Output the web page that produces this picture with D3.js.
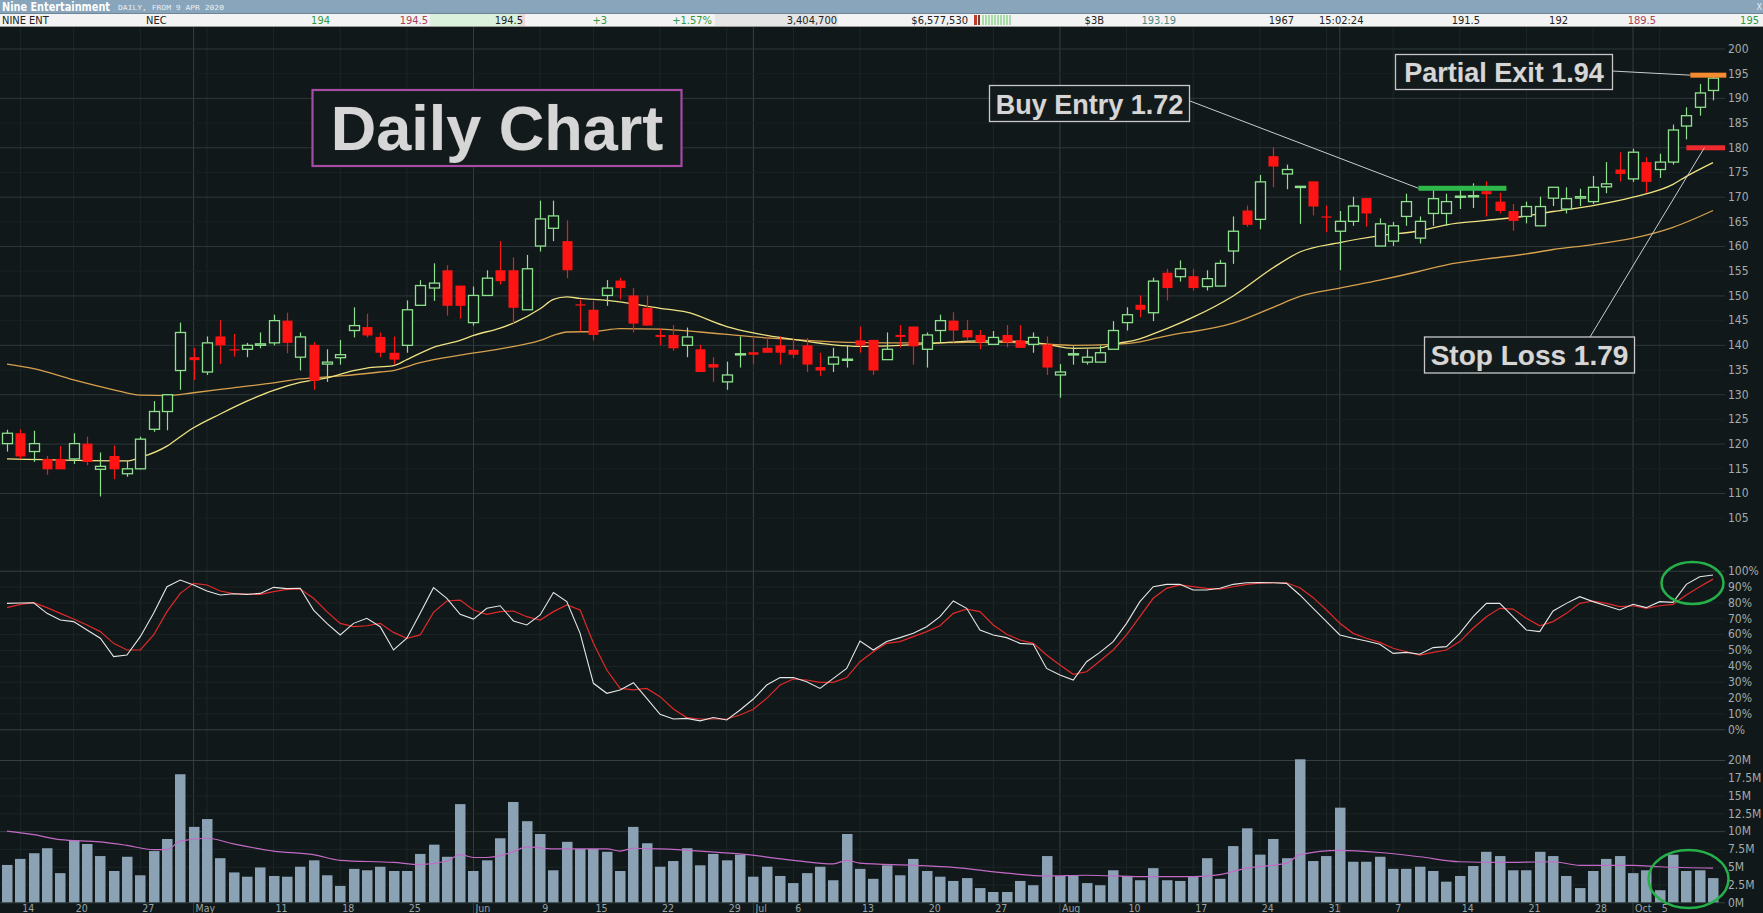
<!DOCTYPE html>
<html><head><meta charset="utf-8">
<script src="https://cdn.jsdelivr.net/npm/d3@7/dist/d3.min.js"></script>
<style>html,body{margin:0;padding:0;background:#111819;overflow:hidden}svg{display:block}</style>
</head><body><svg id="c" width="1763" height="913"></svg>
<script>
// ---------------- DATA (prices in cents) ----------------
const openP  = [120.0,122.1,118.4,116.9,116.9,116.9,120.0,114.8,117.5,113.9,114.9,122.9,126.5,134.8,137.5,134.5,141.7,139.1,139.1,139.9,140.4,144.9,137.5,140.0,136.1,137.4,142.9,143.6,141.6,138.4,139.9,148.0,151.5,155.1,152.0,144.5,150.0,155.1,155.1,147.1,160.0,163.6,161.0,148.2,147.1,150.0,153.0,150.0,147.5,142.0,142.0,139.9,139.1,136.1,132.5,138.0,138.5,139.4,139.9,139.0,139.9,135.5,136.1,137.0,140.9,141.0,137.0,142.0,143.7,139.1,142.9,144.9,143.0,142.0,140.1,142.0,140.9,140.1,140.1,133.9,138.0,136.5,136.5,139.1,144.5,148.1,146.5,154.6,153.8,153.9,151.8,151.9,159.0,167.2,165.4,178.2,174.6,171.9,173.1,166.0,163.0,165.0,169.7,160.0,161.0,166.0,161.6,166.6,166.6,170.0,170.0,171.1,169.0,167.1,166.0,164.1,169.7,167.5,169.7,169.0,172.0,175.5,173.6,177.0,175.5,177.0,184.3,188.1,191.5];
const highP  = [122.8,122.9,122.6,117.5,119.5,122.1,121.4,118.2,119.6,116.5,121.4,128.6,130.0,144.5,139.4,141.7,145.0,142.2,140.4,142.5,146.1,146.5,142.5,140.5,139.1,141.0,147.6,146.3,142.5,141.7,149.0,153.1,156.5,156.1,152.0,151.8,155.1,161.0,157.7,158.2,169.2,169.2,165.2,149.2,148.9,153.1,153.6,151.5,150.0,143.3,144.0,143.5,140.0,137.5,136.6,141.7,141.7,141.7,141.7,141.4,141.4,138.4,139.4,139.9,143.7,141.0,142.5,144.0,143.7,142.5,146.1,146.6,145.0,143.0,142.8,144.0,144.0,142.5,141.7,136.1,139.7,139.1,139.9,144.8,147.6,150.0,153.6,155.4,157.1,155.4,155.1,157.2,166.0,168.2,174.4,180.0,176.5,172.1,173.1,168.2,167.1,170.0,169.7,165.6,164.9,170.6,166.0,171.3,170.6,171.5,172.7,173.1,170.8,168.5,169.0,170.0,171.9,171.9,171.6,174.2,177.0,179.0,179.7,178.0,178.7,184.6,188.1,192.8,195.0];
const lowP   = [118.4,116.9,116.3,113.7,114.8,115.9,115.6,109.3,112.8,113.3,114.8,122.4,122.7,130.9,132.9,133.9,136.1,137.6,137.5,139.3,139.9,138.3,134.8,130.9,132.5,136.0,141.5,141.5,137.5,136.0,138.4,148.0,148.9,145.9,145.3,143.9,150.0,152.2,144.3,147.1,158.9,161.0,153.5,142.7,140.9,147.9,149.2,142.5,143.9,139.9,138.8,137.5,134.5,132.5,130.9,135.4,136.1,138.4,136.0,137.3,134.5,133.7,134.5,135.4,138.4,133.9,137.0,139.4,136.0,135.4,140.5,140.5,141.0,139.1,140.1,139.5,139.4,138.4,133.9,129.3,136.0,136.0,136.5,139.1,142.9,145.6,144.8,149.0,152.8,151.0,151.0,151.9,156.4,163.9,163.4,171.9,171.5,164.5,166.2,162.8,155.1,164.1,163.9,160.0,160.0,164.1,160.5,164.1,164.1,167.5,167.7,166.0,166.6,163.1,164.6,164.1,168.1,166.6,168.1,168.5,170.7,173.1,173.0,170.8,173.8,176.5,181.6,186.4,189.5];
const closeP = [122.1,117.4,120.0,114.8,114.8,120.0,116.3,115.4,114.8,114.9,120.9,126.5,129.9,142.5,136.9,140.4,139.9,138.9,139.9,140.2,144.9,140.4,141.6,132.7,136.5,138.0,143.9,141.9,138.4,137.0,147.1,152.0,152.5,147.9,147.9,150.0,153.5,152.9,147.5,155.4,165.5,166.1,155.1,148.0,142.0,151.5,151.5,144.3,143.9,141.6,139.3,141.6,134.5,135.4,133.9,138.2,138.0,138.4,138.4,138.0,136.0,134.8,137.5,137.1,139.9,134.8,139.1,141.6,139.7,142.0,144.9,142.9,141.5,140.5,141.5,140.5,139.4,141.5,135.4,134.5,138.2,137.5,138.4,142.9,146.1,147.1,152.9,151.5,155.4,151.5,153.4,156.5,163.0,164.3,173.0,176.1,175.5,172.1,168.0,165.9,165.0,168.1,166.6,164.5,164.1,169.0,165.0,169.6,169.0,170.1,170.2,170.5,167.1,165.1,168.0,168.0,171.9,169.6,170.0,171.9,172.6,174.6,179.0,173.0,177.0,183.5,186.4,191.0,194.0];
// moving averages: [day index, value]
const maShort = [[0,116.9],[9,116.5],[10,117.2],[12,119.5],[13,121.4],[14,123.2],[16,126.0],[18,128.6],[20,130.8],[22,132.4],[24,133.3],[26,134.8],[27,135.3],[29,135.8],[30,137.0],[32,139.5],[34,140.9],[35,141.9],[37,143.4],[38,144.4],[40,147.3],[41,149.2],[42,149.7],[43,149.4],[45,149.0],[49,147.4],[51,146.6],[54,143.7],[56,142.4],[59,141.1],[62,140.0],[64,139.7],[67,139.9],[70,140.4],[73,140.8],[76,140.7],[78,140.1],[80,139.3],[82,139.4],[83,140.1],[85,141.2],[86,142.2],[88,144.4],[89,145.6],[92,149.9],[95,155.6],[97,158.8],[100,160.7],[103,162.1],[106,163.1],[108,164.3],[111,165.2],[114,166.1],[116,167.0],[119,168.2],[122,169.9],[125,172.5],[126,174.1],[128,176.9]];
const maLong = [[0,136.1],[2,135.2],[5,132.9],[8,130.9],[10,129.8],[12,129.7],[14,130.3],[17,131.3],[20,132.3],[22,133.1],[25,133.7],[28,134.5],[29,134.8],[31,136.4],[34,137.9],[37,139.2],[40,140.9],[41,141.9],[42,142.6],[44,142.7],[46,143.3],[49,143.2],[52,142.6],[54,142.1],[57,141.4],[60,140.9],[63,140.5],[66,140.4],[69,140.4],[72,140.5],[75,140.5],[77,140.3],[80,139.9],[83,140.1],[85,140.6],[86,141.2],[88,142.3],[89,142.7],[92,144.4],[95,147.6],[97,149.8],[100,151.5],[103,153.1],[106,154.9],[108,156.2],[111,157.4],[114,158.4],[116,159.3],[119,160.3],[122,161.6],[125,163.8],[128,167.2]];
const stochK = [79.4,79.6,79.8,73.1,68.9,67.9,62.6,57.4,45.8,46.8,58.4,73.1,89.9,94.1,91.0,87.2,84.7,85.5,85.1,85.7,89.5,88.7,88.9,75.2,66.8,59.5,66.8,70.0,64.7,50.0,57.4,73.1,89.3,82.6,72.5,69.5,76.3,77.9,68.3,65.8,72.1,86.3,80.5,60.5,29.0,22.7,24.8,29.4,19.5,9.5,6.5,6.9,5.3,7.4,5.9,12.2,19.1,27.9,32.6,32.6,30.0,25.8,32.1,38.4,55.7,50.0,55.3,57.8,60.5,64.7,71.0,80.9,76.3,62.6,59.5,57.8,54.2,53.6,38.4,34.2,31.1,42.6,48.5,55.3,66.8,80.5,89.9,91.4,91.4,87.8,87.8,88.9,91.4,92.4,92.6,92.4,92.0,84.7,76.3,67.9,59.5,57.4,55.7,53.6,47.9,48.5,47.3,51.5,52.1,60.5,71.0,79.4,79.4,71.0,62.6,61.6,74.6,79.4,83.6,80.5,77.9,75.2,78.8,76.7,80.5,80.0,91.4,96.2,97.3];
const stochD = [76.7,78.8,79.8,76.7,73.1,69.5,65.8,61.6,54.2,50.0,50.0,59.5,74.2,85.7,92.0,91.0,87.2,85.5,85.1,85.1,86.8,88.2,88.4,82.6,74.2,66.8,64.7,65.3,66.8,61.1,57.4,59.5,73.7,80.9,81.5,75.2,72.5,74.2,74.6,71.0,68.9,74.2,78.4,75.2,54.2,37.4,25.8,24.8,25.8,20.6,12.8,7.4,6.5,6.5,6.5,9.0,12.6,19.5,27.9,31.7,31.1,29.6,29.6,32.6,42.6,48.9,54.2,55.3,58.4,61.6,65.3,73.1,75.8,74.2,65.8,59.9,56.3,54.2,46.8,40.5,34.7,36.3,43.1,50.0,59.5,71.0,82.6,88.9,91.0,89.9,88.9,88.4,89.9,91.4,92.2,92.4,92.4,89.3,83.0,75.2,66.8,60.5,57.4,54.8,51.1,48.9,46.8,48.5,50.0,55.3,63.7,71.0,76.3,75.8,70.0,65.3,67.9,73.1,79.4,80.9,79.4,77.3,77.9,76.3,77.9,78.8,84.7,89.9,94.7];
const volumeM = [5.25,6.1,6.9,7.6,4.1,8.7,8.2,6.5,4.4,6.4,3.8,7.2,8.9,18.0,10.6,11.7,6.2,4.2,3.6,4.9,3.7,3.6,5.0,5.9,3.8,2.3,4.7,4.5,5.0,4.4,4.4,6.8,8.1,6.4,13.8,4.4,5.9,9.0,14.1,11.4,9.6,4.5,8.5,7.5,7.5,7.1,4.4,10.6,8.3,5.0,5.8,7.6,5.2,6.8,5.9,6.7,3.6,5.0,3.7,2.7,4.1,5.0,3.1,9.6,4.7,3.3,5.2,3.8,6.1,4.4,3.6,3.0,3.4,2.0,1.45,1.45,3.0,2.4,6.5,3.7,3.7,2.7,2.4,4.5,3.7,3.1,4.8,3.1,3.0,3.6,6.2,3.3,7.9,10.4,6.7,8.9,6.2,20.1,5.8,6.5,13.3,5.7,5.7,6.4,4.7,4.7,5.0,4.4,2.9,3.7,5.1,7.1,6.5,4.5,4.5,7.1,6.5,3.7,2.0,4.4,6.1,6.5,4.1,4.5,1.7,6.7,4.4,4.5,3.404];
const volMA = [[0,10.0],[2,9.5],[4,8.8],[7,8.5],[9,8.0],[11,7.4],[12,7.4],[13,8.6],[15,9.0],[17,8.2],[20,7.2],[23,6.7],[25,5.9],[29,5.6],[31,5.3],[33,5.8],[34,6.7],[35,6.3],[36,6.3],[38,7.1],[39,7.8],[41,7.5],[45,7.5],[46,7.2],[47,7.6],[49,7.5],[52,7.2],[55,6.8],[59,5.9],[62,5.4],[63,5.9],[64,5.5],[68,5.2],[71,4.9],[75,4.1],[78,3.7],[81,3.8],[85,3.6],[89,3.6],[91,3.9],[93,4.8],[96,5.5],[97,6.7],[100,7.3],[103,7.0],[106,6.4],[109,5.7],[112,5.6],[116,5.7],[118,5.2],[122,5.2],[124,5.0],[128,4.8]];
const xLabels = [[1,"14"],[5,"20"],[10,"27"],[14,"May"],[20,"11"],[25,"18"],[30,"25"],[35,"Jun"],[40,"9"],[44,"15"],[49,"22"],[54,"29"],[56,"Jul"],[59,"6"],[64,"13"],[69,"20"],[74,"27"],[79,"Aug"],[84,"10"],[89,"17"],[94,"24"],[99,"31"],[104,"7"],[109,"14"],[114,"21"],[119,"28"],[122,"Oct"],[124,"5"]];
const monthStarts = [14,35,56,79,100,122];
const weekStarts = [1,5,10,15,20,25,30,40,44,49,54,59,64,69,74,84,89,94,99,104,109,114,119,124];
const priceTicks = d3.range(105,201,5);
const stochTicks = d3.range(0,101,10);
const volTicks = [0,2.5,5,7.5,10,12.5,15,17.5,20];
const volTickLabels = ["0M","2.5M","5M","7.5M","10M","12.5M","15M","17.5M","20M"];
const buyEntry = {price:171.7, from:105.9, to:112.5, label:"Buy Entry 1.72"};
const stopLoss = {price:179.9, from:126.0, to:128.9, label:"Stop Loss 1.79"};
const partialExit = {price:194.6, from:126.3, to:129.0, label:"Partial Exit 1.94"};
const headerCells = [["NINE ENT",2,"#222","start"],["NEC",146,"#222","start"],["194",330,"#2f9a3f","end"],["194.5",428,"#a8405a","end"],["194.5",523,"#222","end"],["+3",607,"#2f9a3f","end"],["+1.57%",712,"#2f9a3f","end"],["3,404,700",837,"#222","end"],["$6,577,530",968,"#222","end"],["$3B",1104,"#222","end"],["193.19",1176,"#4e8a8a","end"],["1967",1294,"#222","end"],["15:02:24",1319,"#222","start"],["191.5",1480,"#222","end"],["192",1568,"#222","end"],["189.5",1656,"#a8405a","end"],["195",1759,"#2f9a3f","end"]];

// ---------------- LAYOUT ----------------
const W=1763,H=913, gridRight=1725;
const svg=d3.select("#c");
const AX='"Liberation Sans Narrow","DejaVu Sans Condensed","Liberation Sans",sans-serif';
const x=d3.scaleLinear().domain([0,128]).range([7,1713]);
const yP=d3.scaleLinear().domain([105,200]).range([517.7,48.5]);
const yS=d3.scaleLinear().domain([0,100]).range([729.3,570.7]);
const yV=d3.scaleLinear().domain([0,20]).range([902.3,760]);

svg.append("rect").attr("width",W).attr("height",H).attr("fill","#111819");

// vertical grid
const vg=svg.append("g");
vg.selectAll(".w").data(weekStarts).join("line").attr("x1",d=>x(d)).attr("x2",d=>x(d)).attr("y1",27).attr("y2",903).attr("stroke","#1d2628").attr("stroke-width",1);
vg.selectAll(".m").data(monthStarts).join("line").attr("x1",d=>x(d)).attr("x2",d=>x(d)).attr("y1",27).attr("y2",913).attr("stroke","#343f42").attr("stroke-width",1);

// price axis
const gP=svg.append("g").attr("transform",`translate(${gridRight},0)`)
  .call(d3.axisRight(yP).tickValues(priceTicks).tickSize(0).tickPadding(3).tickFormat(d3.format("d")));
gP.select(".domain").remove();
gP.selectAll(".tick").append("line").attr("x1",-gridRight).attr("x2",0)
  .attr("stroke",d=>d%10===0?"#2d383b":"#182123");
const gS=svg.append("g").attr("transform",`translate(${gridRight},0)`)
  .call(d3.axisRight(yS).tickValues(stochTicks).tickSize(0).tickPadding(3).tickFormat(d=>d+"%"));
gS.select(".domain").remove();
gS.selectAll(".tick").append("line").attr("x1",-gridRight).attr("x2",0)
  .attr("stroke",d=>(d===0||d===100)?"#344042":"#1b2426");
const gV=svg.append("g").attr("transform",`translate(${gridRight},0)`)
  .call(d3.axisRight(yV).tickValues(volTicks).tickSize(0).tickPadding(3).tickFormat((d,i)=>volTickLabels[i]));
gV.select(".domain").remove();
gV.selectAll(".tick").append("line").attr("x1",-gridRight).attr("x2",0)
  .attr("stroke",d=>(d===20||d===10||d===0)?"#344042":"#1b2426");
svg.selectAll(".tick text").attr("fill","#a3abab").style("font-family",AX).style("font-size","12px");

// ---------------- PRICE PANE ----------------
const pane=svg.append("g");
const maLine=d3.line().x(d=>x(d[0])).y(d=>yP(d[1])).curve(d3.curveMonotoneX);
pane.append("path").attr("d",maLine(maLong)).attr("fill","none").attr("stroke","#d6a04e").attr("stroke-width",1.3);
pane.append("path").attr("d",maLine(maShort)).attr("fill","none").attr("stroke","#efe283").attr("stroke-width",1.3);

const idx=d3.range(openP.length);
const UP="#8ee08e", DN="#ff1414";
const cg=pane.selectAll(".c").data(idx).join("g");
cg.append("line").attr("x1",i=>Math.round(x(i))+0.5).attr("x2",i=>Math.round(x(i))+0.5)
  .attr("y1",i=>yP(highP[i])).attr("y2",i=>yP(lowP[i]))
  .attr("stroke",i=>closeP[i]>=openP[i]?UP:DN).attr("stroke-width",1.2);
cg.append("rect").attr("x",i=>Math.round(x(i))-4.5).attr("width",10)
  .attr("y",i=>yP(Math.max(openP[i],closeP[i])))
  .attr("height",i=>Math.max(1.2,Math.abs(yP(openP[i])-yP(closeP[i]))))
  .attr("fill",i=>closeP[i]>=openP[i]?"#111819":DN)
  .attr("stroke",i=>closeP[i]>=openP[i]?UP:"none").attr("stroke-width",1.3);

// trade level bars
function levelBar(o,color){
  pane.append("rect").attr("x",x(o.from)).attr("width",x(o.to)-x(o.from))
    .attr("y",yP(o.price)-2.5).attr("height",5).attr("fill",color);
}
levelBar(buyEntry,"#2eb84c");
levelBar(stopLoss,"#ee2a2e");
levelBar(partialExit,"#f58a2e");

// annotations
const ann=svg.append("g").style("font-family",'"Liberation Sans",Arial,sans-serif').style("font-weight","bold");
function leader(x1,y1,x2,y2){ann.append("line").attr("x1",x1).attr("y1",y1).attr("x2",x2).attr("y2",y2).attr("stroke","#c9cccc").attr("stroke-width",1);}
leader(1190,101,x(buyEntry.from),yP(buyEntry.price));
leader(1612,71,x(partialExit.from),yP(partialExit.price));
leader(1590,337,x(stopLoss.from)+18,yP(stopLoss.price));
function box(bx,by,bw,bh,txt,size,stroke,sw,base){
  ann.append("rect").attr("x",bx).attr("y",by).attr("width",bw).attr("height",bh)
    .attr("fill","#121a1b").attr("stroke",stroke).attr("stroke-width",sw);
  ann.append("text").attr("x",bx+bw/2).attr("y",base).attr("text-anchor","middle")
    .attr("fill","#d6d6d6").attr("stroke","#3a3a3a").attr("stroke-width",0.6).style("paint-order","stroke")
    .style("font-size",size+"px").text(txt);
}
box(312.5,90,369,76,"Daily Chart",63,"#a44ca4",2.2,150);
box(989.5,85.5,200,36,buyEntry.label,27,"#c8c8c8",1.3,113.5);
box(1395.5,54.5,217,35,partialExit.label,27,"#c8c8c8",1.3,82);
box(1424.5,337,210,36,stopLoss.label,28,"#c8c8c8",1.3,365);

// ---------------- STOCHASTIC ----------------
const sLine=d3.line().x((d,i)=>x(i)).y(d=>yS(d));
svg.append("path").attr("d",sLine(stochD)).attr("fill","none").attr("stroke","#e02a2a").attr("stroke-width",1.2);
svg.append("path").attr("d",sLine(stochK)).attr("fill","none").attr("stroke","#e6e6e6").attr("stroke-width",1.1);

// ---------------- VOLUME ----------------
svg.append("g").selectAll("rect").data(volumeM).join("rect")
  .attr("x",(d,i)=>Math.round(x(i))-5).attr("width",10.5)
  .attr("y",d=>yV(d)).attr("height",d=>yV(0)-yV(d)).attr("fill","#8ba1b4");
svg.append("path").attr("d",d3.line().x(d=>x(d[0])).y(d=>yV(d[1])).curve(d3.curveMonotoneX)(volMA))
  .attr("fill","none").attr("stroke","#c26ac6").attr("stroke-width",1.2);

// highlight ellipses
svg.append("ellipse").attr("cx",1692.5).attr("cy",583).attr("rx",31).attr("ry",21).attr("fill","none").attr("stroke","#25b04a").attr("stroke-width",2.5);
svg.append("ellipse").attr("cx",1688.5).attr("cy",879).attr("rx",40).attr("ry",29).attr("fill","none").attr("stroke","#25b04a").attr("stroke-width",2.5);

// x labels
svg.append("g").selectAll("text").data(xLabels).join("text")
  .attr("x",d=>x(d[0])+2).attr("y",912).attr("fill","#9aa3a5")
  .style("font-family",AX).style("font-size","10.5px").text(d=>d[1]);

// ---------------- HEADER ----------------
const hd=svg.append("g");
hd.append("rect").attr("x",0).attr("y",0).attr("width",W).attr("height",13).attr("fill","#88a5bb");
hd.append("text").attr("x",2).attr("y",11).attr("fill","#ffffff").attr("textLength",108).attr("lengthAdjust","spacingAndGlyphs")
  .style("font-family",AX).style("font-size","12px").style("font-weight","bold").text("Nine Entertainment");
hd.append("text").attr("x",118).attr("y",10).attr("fill","#e8eef2").attr("textLength",106).attr("lengthAdjust","spacingAndGlyphs")
  .style("font-family",'"DejaVu Sans Mono",monospace').style("font-size","7px").text("DAILY, FROM 9 APR 2020");
hd.append("text").attr("x",1762).attr("y",10).attr("text-anchor","end").attr("fill","#e8eef2").style("font-family",AX).style("font-size","9px").text("X");
hd.append("rect").attr("x",0).attr("y",13).attr("width",W).attr("height",14).attr("fill","#f3f3f3");
hd.append("rect").attr("x",430).attr("y",13).attr("width",95).attr("height",14).attr("fill","#dcf1dc");
hd.append("rect").attr("x",519).attr("y",13).attr("width",6).attr("height",14).attr("fill","#f0d8d8");
hd.append("rect").attr("x",715).attr("y",13).attr("width",123).attr("height",14).attr("fill","#e5e5e5");
hd.append("line").attr("x1",0).attr("x2",W).attr("y1",13.5).attr("y2",13.5).attr("stroke","#6d8597");
hd.append("line").attr("x1",0).attr("x2",W).attr("y1",26.5).attr("y2",26.5).attr("stroke","#9a9a9a");
// mini bar cell
hd.append("rect").attr("x",974).attr("y",15).attr("width",3).attr("height",10).attr("fill","#c0392b");
hd.append("rect").attr("x",978).attr("y",15).attr("width",2).attr("height",10).attr("fill","#7a3a2a");
hd.selectAll(".mb").data(d3.range(10)).join("rect").attr("x",d=>982+d*3).attr("y",15).attr("width",2).attr("height",10).attr("fill","#a8dca8");
hd.selectAll(".hc").data(headerCells).join("text")
  .attr("x",d=>d[1]).attr("y",24).attr("text-anchor",d=>d[3]).attr("fill",d=>d[2])
  .style("font-family",AX).style("font-size","11px").text(d=>d[0]);
</script></body></html>
